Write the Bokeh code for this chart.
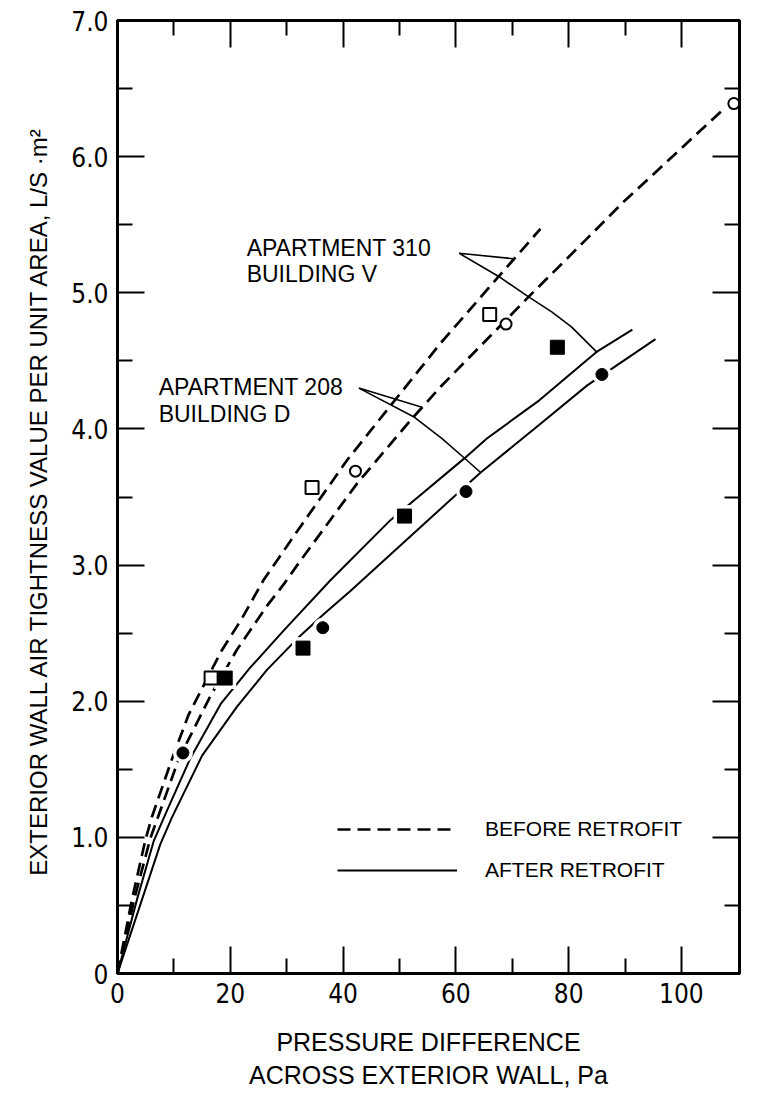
from bokeh.plotting import figure
from bokeh.models import FixedTicker, LinearAxis, Legend, LegendItem, Label
from bokeh.embed import file_html
from bokeh.resources import INLINE

# ---- axis ticks / labels ----
x_major = [0, 20, 40, 60, 80, 100]
x_minor = [10, 30, 50, 70, 90]
x_tick_labels = ["0", "20", "40", "60", "80", "100"]
y_major = [0, 1, 2, 3, 4, 5, 6, 7]
y_minor = [0.5, 1.5, 2.5, 3.5, 4.5, 5.5, 6.5]
y_tick_labels = ["0", "1.0", "2.0", "3.0", "4.0", "5.0", "6.0", "7.0"]

# ---- fitted curves ----
apt310_before_x = [0, 2.6, 5.0, 6.1, 9.7, 12.6, 18.3, 22.1, 25.9, 32.4, 40.7, 48.4, 57.3, 67.6, 75.0]
apt310_before_y = [0, 0.55, 0.99, 1.15, 1.58, 1.90, 2.36, 2.61, 2.89, 3.28, 3.77, 4.17, 4.63, 5.12, 5.47]
apt208_before_x = [0, 3.0, 5.8, 10.9, 16.5, 21.2, 26.5, 29.5, 32.4, 42.5, 51.9, 57.3, 72.9, 82.1, 89.8, 107.5]
apt208_before_y = [0, 0.55, 0.99, 1.58, 2.04, 2.38, 2.70, 2.86, 3.03, 3.60, 4.06, 4.31, 4.97, 5.35, 5.67, 6.35]
apt310_after_x = [0, 3.5, 6.4, 8.5, 12.9, 18.3, 23.6, 29.5, 37.8, 48.4, 61.4, 65.5, 74.8, 85.1, 91.3]
apt310_after_y = [0, 0.55, 0.97, 1.17, 1.58, 1.98, 2.25, 2.52, 2.89, 3.33, 3.78, 3.93, 4.21, 4.57, 4.73]
apt208_after_x = [0, 4.4, 7.6, 9.7, 15.0, 21.2, 26.5, 31.9, 36.6, 41.3, 59.6, 64.4, 74.8, 83.3, 95.4]
apt208_after_y = [0, 0.55, 0.95, 1.15, 1.60, 1.96, 2.23, 2.46, 2.64, 2.81, 3.50, 3.68, 4.03, 4.32, 4.66]

# ---- measured points ----
apt310_before_pts_x = [16.6, 34.5, 66.0]
apt310_before_pts_y = [2.17, 3.57, 4.84]
apt310_after_pts_x = [19.1, 32.9, 50.9, 78.0]
apt310_after_pts_y = [2.17, 2.39, 3.36, 4.60]
apt208_before_pts_x = [42.2, 68.9, 109.3]
apt208_before_pts_y = [3.69, 4.77, 6.39]
apt208_after_pts_x = [11.6, 36.4, 61.8, 85.9]
apt208_after_pts_y = [1.62, 2.54, 3.54, 4.40]

# ---- annotation leader lines ----
lead310_x = [69.3, 70.2, 60.6, 67.6, 72.9, 77.0, 80.5, 85.1]
lead310_y = [5.20, 5.25, 5.29, 5.12, 4.97, 4.86, 4.75, 4.56]
lead208_x = [54.0, 42.8, 52.5, 57.5, 61.4, 64.4]
lead208_y = [4.16, 4.30, 4.09, 3.93, 3.79, 3.68]

TXT = "Liberation Sans"
NUM = "DejaVu Sans Condensed"

p = figure(frame_width=622, frame_height=953, x_range=(0, 110.3), y_range=(0, 7),
           output_backend="svg", toolbar_location=None,
           min_border_left=117, min_border_right=26, min_border_top=20, min_border_bottom=121)
p.grid.visible = False
p.outline_line_color = "black"
p.outline_line_width = 3
p.background_fill_color = "white"
p.border_fill_color = "white"

xt = FixedTicker(ticks=x_major, minor_ticks=x_minor)
yt = FixedTicker(ticks=y_major, minor_ticks=y_minor)


def style(ax, show):
    ax.axis_line_width = 3
    ax.axis_line_color = "black"
    ax.major_tick_in = 27
    ax.major_tick_out = 0
    ax.minor_tick_in = 15
    ax.minor_tick_out = 0
    ax.major_tick_line_width = 2
    ax.minor_tick_line_width = 2
    ax.major_tick_line_color = "black"
    ax.minor_tick_line_color = "black"
    if show:
        ax.major_label_text_font = NUM
        ax.major_label_text_font_size = "26px"
        ax.major_label_text_color = "black"
    else:
        ax.major_label_text_color = None
        ax.major_label_text_alpha = 0
        ax.major_label_text_font_size = "1px"
        ax.major_label_standoff = 0


xa = p.xaxis[0]
xa.ticker = xt
style(xa, True)
xa.major_label_overrides = {v: s for v, s in zip(x_major, x_tick_labels)}
xa.major_label_standoff = 9
xa.axis_label = "PRESSURE DIFFERENCE\nACROSS EXTERIOR WALL, Pa"
xa.axis_label_text_font = TXT
xa.axis_label_text_font_size = "25px"
xa.axis_label_text_font_style = "normal"
xa.axis_label_text_color = "black"
xa.axis_label_text_line_height = 1.2
xa.axis_label_standoff = 22

ya = p.yaxis[0]
ya.ticker = yt
style(ya, True)
ya.major_label_overrides = {v: s for v, s in zip(y_major, y_tick_labels)}
ya.major_label_standoff = 9
ya.axis_label = "EXTERIOR WALL AIR TIGHTNESS VALUE PER UNIT AREA,  L/S \u00b7m\u00b2"
ya.axis_label_text_font = TXT
ya.axis_label_text_font_size = "24px"
ya.axis_label_text_font_style = "normal"
ya.axis_label_text_color = "black"
ya.axis_label_standoff = 16

top = LinearAxis(ticker=xt)
style(top, False)
p.add_layout(top, "above")
right = LinearAxis(ticker=yt)
style(right, False)
p.add_layout(right, "right")

DASH = "13 7"
rA = p.line(apt310_before_x, apt310_before_y, line_color="black", line_width=2.7, line_dash=DASH)
rB = p.line(apt208_before_x, apt208_before_y, line_color="black", line_width=2.7, line_dash=DASH)
rC = p.line(apt310_after_x, apt310_after_y, line_color="black", line_width=2)
rD = p.line(apt208_after_x, apt208_after_y, line_color="black", line_width=2)

# white halos that break the curves around the filled points
p.scatter(apt310_after_pts_x, apt310_after_pts_y, marker="square", size=22,
          fill_color="white", line_color=None)
p.scatter(apt208_after_pts_x, apt208_after_pts_y, marker="circle", size=20,
          fill_color="white", line_color=None)

p.scatter(apt310_before_pts_x, apt310_before_pts_y, marker="square", size=13,
          fill_color="white", line_color="black", line_width=2)
p.scatter(apt208_before_pts_x, apt208_before_pts_y, marker="circle", size=11,
          fill_color="white", line_color="black", line_width=2)
p.scatter(apt310_after_pts_x, apt310_after_pts_y, marker="square", size=14,
          fill_color="black", line_color="black")
p.scatter(apt208_after_pts_x, apt208_after_pts_y, marker="circle", size=12,
          fill_color="black", line_color="black")

p.line(lead310_x, lead310_y, line_color="black", line_width=1.6)
p.line(lead208_x, lead208_y, line_color="black", line_width=1.6)

for (lx, ly, t) in [(22.9, 5.33, "APARTMENT 310"), (22.9, 5.14, "BUILDING V"),
                    (7.3, 4.31, "APARTMENT 208"), (7.3, 4.11, "BUILDING D")]:
    p.add_layout(Label(x=lx, y=ly, text=t, text_font=TXT, text_font_size="23px",
                       text_baseline="alphabetic", text_align="left", text_color="black"))

legend = Legend(items=[LegendItem(label="BEFORE RETROFIT", renderers=[rA]),
                       LegendItem(label="AFTER RETROFIT", renderers=[rC])],
                location=(220, 91), glyph_width=120, glyph_height=20, spacing=17,
                label_standoff=28, padding=0, margin=0, border_line_color=None,
                background_fill_alpha=0, label_text_font=TXT,
                label_text_font_size="21px", label_text_color="black")
p.add_layout(legend)

open("out.html", "w").write(file_html(p, INLINE))
